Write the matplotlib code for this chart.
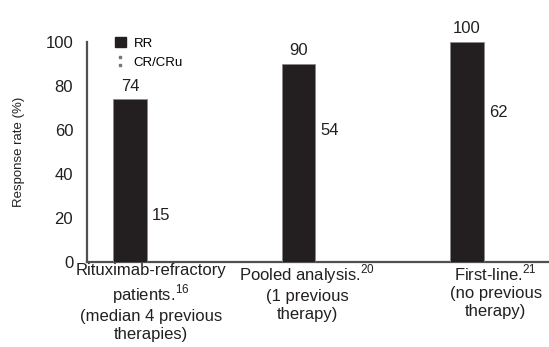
import matplotlib
matplotlib.use('Agg')
import matplotlib.pyplot as plt
import matplotlib.transforms as mtransforms
from matplotlib.patches import Patch
from matplotlib.lines import Line2D

categories = ['Rituximab-refractory\npatients.$^{16}$\n(median 4 previous\ntherapies)',
              'Pooled analysis.$^{20}$\n(1 previous\ntherapy)',
              'First-line.$^{21}$\n(no previous\ntherapy)']
rr = [74, 90, 100]
cr = [15, 54, 62]
series_names = ['RR', 'CR/CRu']
yticks = [0, 20, 40, 60, 80, 100]

plt.rcParams['font.family'] = ['Liberation Sans', 'DejaVu Sans']
plt.rcParams['mathtext.fontset'] = 'custom'
plt.rcParams['mathtext.rm'] = 'Liberation Sans'

def plotting():
    fig = plt.figure(figsize=(5.49, 3.47), dpi=100)
    ax = fig.add_axes([0.1585, 0.245, 0.8415, 0.634])
    x = list(range(len(categories)))
    w = 0.2
    ax.bar([i - w / 2 for i in x], rr, width=w, color='#231f20',
           edgecolor='#8a8a8a', linewidth=0.6, zorder=3)
    ax.bar([i + w / 2 for i in x], cr, width=w, color='white',
           edgecolor='none', zorder=2)
    for i in x:
        ax.annotate(str(rr[i]), (i - w / 2, rr[i]), xytext=(0, 4),
                    textcoords='offset points', ha='center', va='bottom',
                    fontsize=12, color='#231f20')
        ax.annotate(str(cr[i]), (i + 0.083, cr[i]), xytext=(0, 4),
                    textcoords='offset points', ha='center', va='bottom',
                    fontsize=12, color='#231f20')

    ax.set_xlim(-0.356, 2.386)
    ax.set_ylim(0, 100)
    ax.set_yticks(yticks)
    ax.tick_params(axis='y', length=0, pad=10, labelsize=12, colors='#231f20')
    ax.set_xticks([])

    # category labels, nudged a little like the original
    offs = [0.024, -0.05, 0.071]
    trans = mtransforms.blended_transform_factory(ax.transData, ax.transAxes)
    for i, o in zip(x, offs):
        ax.text(i + o, -0.004, categories[i], transform=trans, ha='center', va='top',
                multialignment='center', fontsize=12,
                color='#231f20', linespacing=1.25)

    for s in ['top', 'right']:
        ax.spines[s].set_visible(False)
    for s in ['left', 'bottom']:
        ax.spines[s].set_color('#505050')
        ax.spines[s].set_linewidth(1.6)

    ax.set_ylabel('Response rate (%)', fontsize=9.5, color='#231f20')
    ax.yaxis.set_label_coords(-0.135, 0.5)

    handles = [Patch(facecolor='#231f20', edgecolor='#231f20'),
               Line2D([], [], ls='none', marker='$:$', color='#777777', markersize=7)]
    ax.legend(handles, series_names, loc='upper left', bbox_to_anchor=(0.035, 1.075),
              frameon=False, fontsize=9.5, handlelength=0.8, handleheight=0.8,
              handletextpad=0.6, labelspacing=0.5)

    fig.savefig('out.png', dpi=100)

if __name__ == '__main__':
    plotting()
